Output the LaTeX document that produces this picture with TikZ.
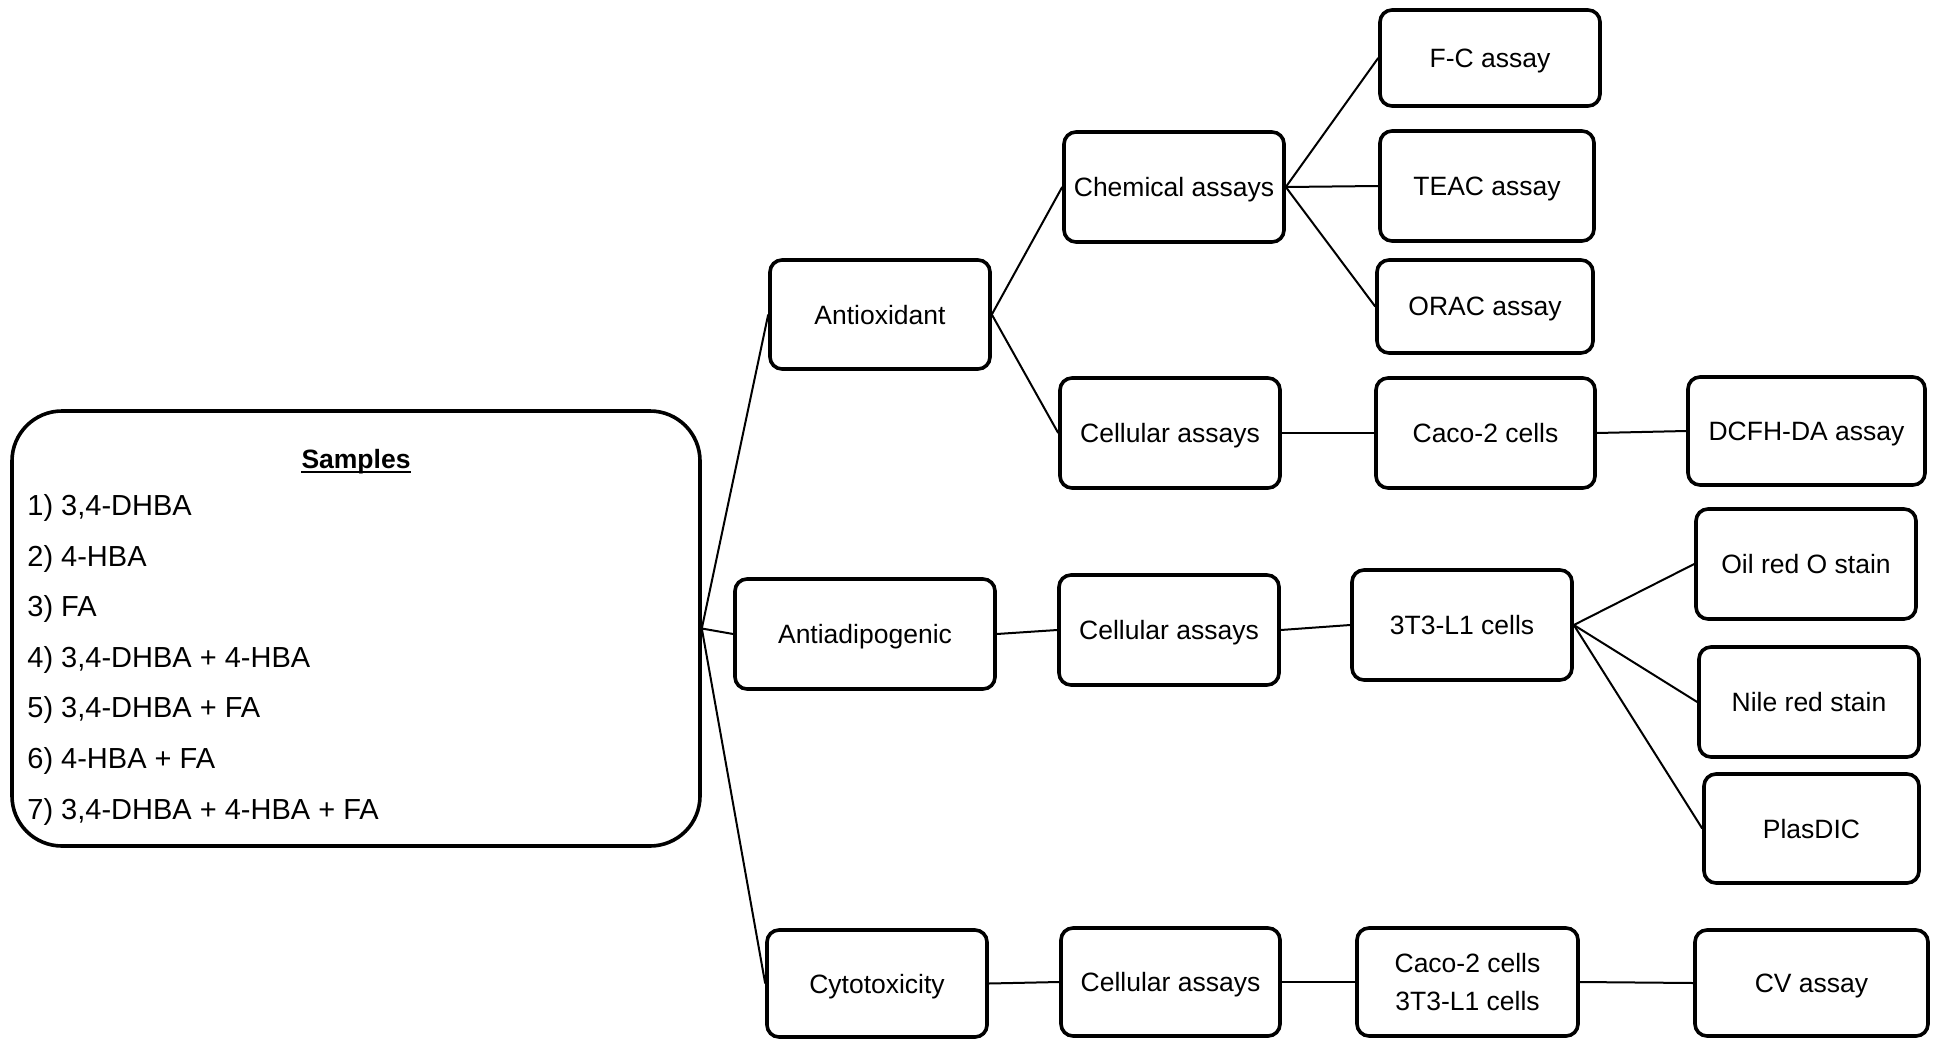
\documentclass[tikz,border=0pt]{standalone}
\usepackage{fontspec}
\setmainfont{Liberation Sans}
\begin{document}
\begin{tikzpicture}[x=0.5pt,y=-0.5pt,
  box/.style={draw, rounded corners=6pt, line width=1.8pt, inner sep=0pt,
    font=\fontsize{13.25}{19}\selectfont, align=center, text depth=0pt},
  listtxt/.style={anchor=west, inner sep=0pt, font=\fontsize{14.5}{17}\selectfont},
  conn/.style={line width=1pt}]
\useasboundingbox (0,0) rectangle (1936,1038);
% Samples box
\node[draw, rounded corners=25pt, line width=1.8pt, minimum width=344pt, minimum height=217.5pt, inner sep=0pt] (samples) at (356,628.5) {};
\node[inner sep=0pt, text depth=0pt, font=\fontsize{13.25}{16}\selectfont\bfseries] (stitle) at (356,459) {Samples};
\draw[line width=1.1pt] ([yshift=-1.6pt]stitle.base west) -- ([yshift=-1.6pt]stitle.base east);
\node[listtxt] (s1) at (27,508) {1) 3,4-DHBA};
\node[listtxt] (s2) at (27,559) {2) 4-HBA};
\node[listtxt] (s3) at (27,609) {3) FA};
\node[listtxt] (s4) at (27,660) {4) 3,4-DHBA + 4-HBA};
\node[listtxt] (s5) at (27,710) {5) 3,4-DHBA + FA};
\node[listtxt] (s6) at (27,761) {6) 4-HBA + FA};
\node[listtxt] (s7) at (27,812) {7) 3,4-DHBA + 4-HBA + FA};
% Level 1
\node[box, minimum width=110pt, minimum height=54.5pt] (antiox) at (880,314.5) {Antioxidant};
\node[box, minimum width=130pt, minimum height=55pt] (antiadip) at (865,634) {Antiadipogenic};
\node[box, minimum width=110pt, minimum height=53.5pt] (cytotox) at (877,983.5) {Cytotoxicity};
% Level 2
\node[box, minimum width=110pt, minimum height=55pt] (chem) at (1174,187) {Chemical assays};
\node[box, minimum width=110pt, minimum height=55pt] (cell1) at (1170,433) {Cellular assays};
\node[box, minimum width=110pt, minimum height=55pt] (cell2) at (1169,630) {Cellular assays};
\node[box, minimum width=109.5pt, minimum height=54pt] (cell3) at (1170.5,982) {Cellular assays};
% Level 3
\node[box, minimum width=110pt, minimum height=48pt] (fc) at (1490,58) {F-C assay};
\node[box, minimum width=107pt, minimum height=55pt] (teac) at (1487,186) {TEAC assay};
\node[box, minimum width=108pt, minimum height=46.5pt] (orac) at (1485,306.5) {ORAC assay};
\node[box, minimum width=109.5pt, minimum height=55pt] (caco) at (1485.5,433) {Caco-2 cells};
\node[box, minimum width=110pt, minimum height=55pt] (t3) at (1462,625) {3T3-L1 cells};
\node[box, minimum width=110.5pt, minimum height=54pt] (cacot3) at (1467.5,982) {Caco-2 cells\\3T3-L1 cells};
% Level 4
\node[box, minimum width=118.5pt, minimum height=54pt] (dcfh) at (1806.5,431) {DCFH-DA assay};
\node[box, minimum width=110pt, minimum height=55pt] (oil) at (1806,564) {Oil red O stain};
\node[box, minimum width=110pt, minimum height=55pt] (nile) at (1809,702) {Nile red stain};
\node[box, minimum width=107.5pt, minimum height=54.5pt] (plas) at (1811.5,828.5) {PlasDIC};
\node[box, minimum width=116.5pt, minimum height=53pt] (cv) at (1811.5,983) {CV assay};
% Connectors
\draw[conn] (samples.east) -- (antiox.west);
\draw[conn] (samples.east) -- (antiadip.west);
\draw[conn] (samples.east) -- (cytotox.west);
\draw[conn] (antiox.east) -- (chem.west);
\draw[conn] (antiox.east) -- (cell1.west);
\draw[conn] (chem.east) -- (fc.west);
\draw[conn] (chem.east) -- (teac.west);
\draw[conn] (chem.east) -- (orac.west);
\draw[conn] (cell1.east) -- (caco.west);
\draw[conn] (caco.east) -- (dcfh.west);
\draw[conn] (antiadip.east) -- (cell2.west);
\draw[conn] (cell2.east) -- (t3.west);
\draw[conn] (t3.east) -- (oil.west);
\draw[conn] (t3.east) -- (nile.west);
\draw[conn] (t3.east) -- (plas.west);
\draw[conn] (cytotox.east) -- (cell3.west);
\draw[conn] (cell3.east) -- (cacot3.west);
\draw[conn] (cacot3.east) -- (cv.west);
\end{tikzpicture}
\end{document}
